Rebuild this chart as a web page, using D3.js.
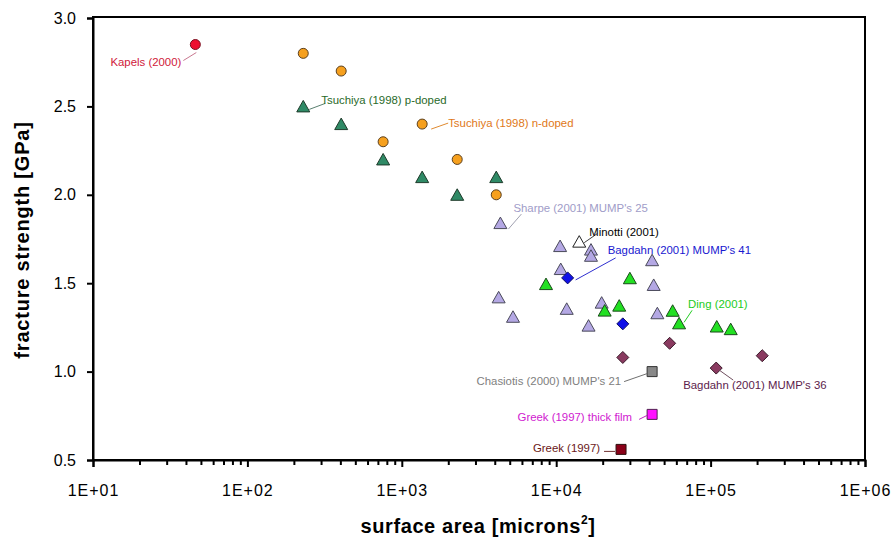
<!DOCTYPE html>
<html><head><meta charset="utf-8">
<script src="https://cdn.jsdelivr.net/npm/d3@7/dist/d3.min.js"></script>
<style>
body{margin:0;background:#fff;}
svg{display:block;font-family:Arial,"Liberation Sans",sans-serif;}
</style></head>
<body><svg id="c" width="893" height="543"></svg>
<script>
// ---- data: [surface area (microns^2), fracture strength (GPa)] ----
const kapels      = [[46, 2.85]];
const tsuchiyaN   = [[230,2.80],[405,2.70],[757,2.30],[1355,2.40],[2285,2.20],[4090,2.00]];
const tsuchiyaP   = [[230,2.50],[405,2.40],[757,2.20],[1355,2.10],[2285,2.00],[4090,2.10]];
const sharpe25    = [[4350,1.84],[10600,1.71],[16800,1.69],[16800,1.655],[41800,1.63],[10700,1.58],[42800,1.49],[4240,1.42],[5250,1.31],[11700,1.355],[19700,1.39],[16200,1.26],[45200,1.33]];
const minotti     = [[14100,1.735]];
const ding        = [[8590,1.495],[30000,1.528],[20600,1.345],[25600,1.373],[56800,1.344],[62500,1.273],[109600,1.255],[135000,1.24]];
const bagdahn41   = [[11860,1.53],[27000,1.27]];
const bagdahn36   = [[27000,1.08],[54300,1.16],[108700,1.02],[216000,1.09]];
const chasiotis   = [[41800,1.00]];
const greekThick  = [[41800,0.758]];
const greek       = [[26300,0.56]];

const xTicks = [1e1,1e2,1e3,1e4,1e5,1e6];
const yTicks = [0.5,1.0,1.5,2.0,2.5,3.0];
const seriesNames = ["Kapels (2000)","Tsuchiya (1998) n-doped","Tsuchiya (1998) p-doped","Sharpe (2001) MUMP's 25","Minotti (2001)","Ding (2001)","Bagdahn (2001) MUMP's 41","Bagdahn (2001) MUMP's 36","Chasiotis (2000) MUMP's 21","Greek (1997) thick film","Greek (1997)"];

// ---- styles / layout ----
const series = [
  {name:seriesNames[0], data:kapels,     shape:"circle",   fill:"#ee1030", stroke:"#7a1020", text:"#d0203a", lead:"#c87890"},
  {name:seriesNames[1], data:tsuchiyaN,  shape:"circle",   fill:"#f6a01e", stroke:"#5a4020", text:"#e07818", lead:"#e08a30"},
  {name:seriesNames[2], data:tsuchiyaP,  shape:"triangle", fill:"#2f8a66", stroke:"#1e3a2a", text:"#2a6a2a", lead:"#5a8070"},
  {name:seriesNames[3], data:sharpe25,   shape:"triangle", fill:"#b4a8e4", stroke:"#4a4a5a", text:"#a09cc8", lead:"#a0a0b0"},
  {name:seriesNames[4], data:minotti,    shape:"triangle", fill:"#ffffff", stroke:"#202020", text:"#000000", lead:"#404040"},
  {name:seriesNames[5], data:ding,       shape:"triangle", fill:"#22e022", stroke:"#1a4a1a", text:"#22cc22", lead:"#22cc22"},
  {name:seriesNames[6], data:bagdahn41,  shape:"diamond",  fill:"#1010e8", stroke:"#101060", text:"#1818d0", lead:"#3030d0"},
  {name:seriesNames[7], data:bagdahn36,  shape:"diamond",  fill:"#8a3a60", stroke:"#3a1a2a", text:"#5c1c4c", lead:"#705060"},
  {name:seriesNames[8], data:chasiotis,  shape:"square",   fill:"#888888", stroke:"#333333", text:"#808080", lead:"#707070"},
  {name:seriesNames[9], data:greekThick, shape:"square",   fill:"#ff10ff", stroke:"#502050", text:"#d020d0", lead:"#c020c0"},
  {name:seriesNames[10],data:greek,      shape:"square",   fill:"#8a0018", stroke:"#301010", text:"#6b1818", lead:"#703030"}
];
// annotation layout: pixel offsets relative to the labelled point
const notes = [
  {s:0, i:0, line:[[1,8],[-12,16]],  pos:[-14,21],  anchor:"end"},
  {s:1, i:3, line:[[9,5],[26,-1]],   pos:[26,2.5],  anchor:"start"},
  {s:2, i:0, line:[[6,3],[22,-3]],   pos:[18,-2.5], anchor:"start"},
  {s:3, i:0, line:[[8,6],[21,-9]],   pos:[13,-11.5],anchor:"start"},
  {s:4, i:0, line:[[5,1],[18,-8]],   pos:[10,-6],   anchor:"start"},
  {s:6, i:0, line:[[8,2],[48,-20]],  pos:[40,-24],  anchor:"start"},
  {s:5, i:5, line:[[5,-1],[13,-13]], pos:[9,-15],   anchor:"start"},
  {s:8, i:0, line:[[-28,10],[-5,2]], pos:[-31,13],  anchor:"end"},
  {s:7, i:2, line:[[3,2],[17,12]],   pos:[-33,21],  anchor:"start"},
  {s:9, i:0, line:[[-13,5],[-5,1]],  pos:[-20,6.5], anchor:"end"},
  {s:10,i:0, line:[[-17,2],[-6,2]],  pos:[-21,2.5], anchor:"end"}
];

const L=93, R=865, T=17, B=460;
const svg = d3.select("#c");
const x = d3.scaleLog().domain([1e1,1e6]).range([L,R]);
const y = d3.scaleLinear().domain([0.5,3.0]).range([B,18]);

// frame
svg.append("rect").attr("x",L).attr("y",T).attr("width",R-L).attr("height",B-T)
  .attr("fill","none").attr("stroke","#000").attr("stroke-width",2);

// x axis minor ticks
const minor = [];
for (let d=1; d<6; d++) for (let k=2; k<10; k++) minor.push(k*Math.pow(10,d));
const gxm = svg.append("g").attr("transform",`translate(0,${B})`)
  .call(d3.axisBottom(x).tickValues(minor).tickSize(5).tickFormat(""));
gxm.select(".domain").remove();
gxm.selectAll("line").attr("stroke","#000").attr("stroke-width",2);

const gx = svg.append("g").attr("transform",`translate(0,${B})`)
  .call(d3.axisBottom(x).tickValues(xTicks).tickSize(7).tickPadding(18)
    .tickFormat(d=>"1E+"+String(Math.round(Math.log10(d))).padStart(2,"0")));
gx.select(".domain").attr("stroke","#000").attr("stroke-width",2);
gx.selectAll("line").attr("stroke","#000").attr("stroke-width",2);
gx.selectAll("text").attr("font-size",16).attr("fill","#000")
  .attr("font-family","Arial,'Liberation Sans',sans-serif").style("letter-spacing","1px");

const gy = svg.append("g").attr("transform",`translate(${L},0)`)
  .call(d3.axisLeft(y).tickValues(yTicks).tickSize(6).tickPadding(11).tickFormat(d3.format(".1f")));
gy.select(".domain").attr("stroke","#000").attr("stroke-width",2);
gy.selectAll("line").attr("stroke","#000").attr("stroke-width",2);
gy.selectAll("text").attr("font-size",16).attr("fill","#000")
  .attr("font-family","Arial,'Liberation Sans',sans-serif");

// axis titles
const xt = svg.append("text").attr("x",478).attr("y",533).attr("text-anchor","middle")
  .attr("font-size",20).attr("font-weight","bold").style("letter-spacing","0.6px");
xt.append("tspan").text("surface area [microns");
xt.append("tspan").text("2").attr("font-size",12).attr("dy",-9);
xt.append("tspan").text("]").attr("dy",9);

svg.append("text").attr("transform","translate(29,240) rotate(-90)").attr("text-anchor","middle")
  .attr("font-size",20).attr("font-weight","bold").style("letter-spacing","0.8px")
  .text("fracture strength [GPa]");

// markers
function shapePath(shape){
  if (shape==="circle")   return "M5,0A5,5 0 1,1 -5,0A5,5 0 1,1 5,0Z";
  if (shape==="triangle") return "M0,-6L6.5,5.5L-6.5,5.5Z";
  if (shape==="diamond")  return "M0,-6L6,0L0,6L-6,0Z";
  return "M-5,-5L5,-5L5,5L-5,5Z";
}
series.forEach(s=>{
  svg.append("g").selectAll("path").data(s.data).join("path")
    .attr("transform",d=>`translate(${x(d[0])},${y(d[1])})`)
    .attr("d",shapePath(s.shape))
    .attr("fill",s.fill).attr("stroke",s.stroke).attr("stroke-width",1);
});

// annotations
notes.forEach(n=>{
  const s = series[n.s], d = s.data[n.i];
  const px = x(d[0]), py = y(d[1]);
  svg.append("line")
    .attr("x1",px+n.line[0][0]).attr("y1",py+n.line[0][1])
    .attr("x2",px+n.line[1][0]).attr("y2",py+n.line[1][1])
    .attr("stroke",s.lead).attr("stroke-width",1);
  svg.append("text").attr("x",px+n.pos[0]).attr("y",py+n.pos[1])
    .attr("text-anchor",n.anchor).attr("font-size",11.4).attr("fill",s.text)
    .text(s.name);
});
</script></body></html>
